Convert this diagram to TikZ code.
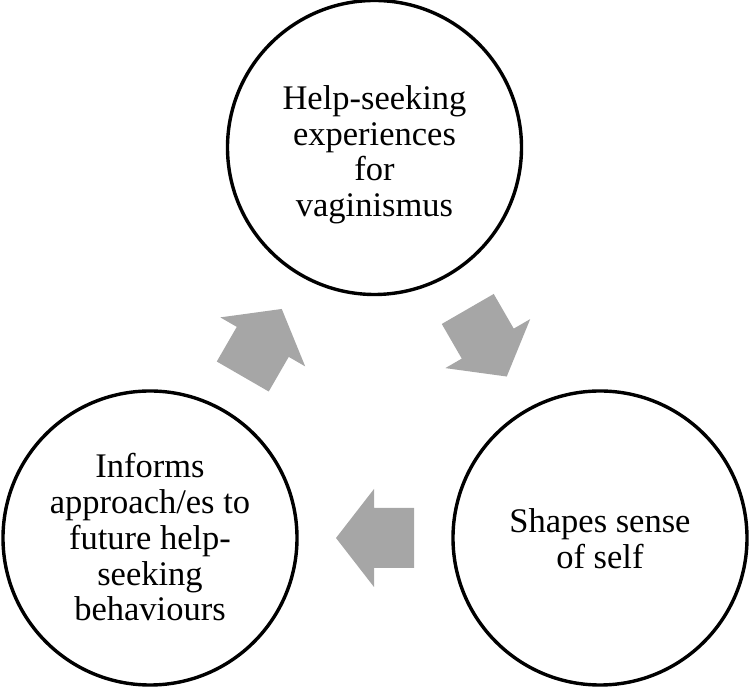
\documentclass[tikz,border=0pt]{standalone}
\usepackage{fontspec}
\setmainfont{Liberation Serif}
\usetikzlibrary{calc}
\definecolor{arrowgray}{RGB}{166,166,166}
\begin{document}
\begin{tikzpicture}[x=1pt,y=1pt,
  bubble/.style={circle, draw=black, line width=3.4pt, minimum size=294pt, inner sep=0pt},
  bubbletext/.style={align=center, font=\fontsize{34.5}{35.8}\selectfont, inner sep=0pt},
  blockarrow/.pic={\fill[arrowgray] (-39,-30) -- (1,-30) -- (1,-49) -- (39,0) -- (1,49) -- (1,30) -- (-39,30) -- cycle;}
]
\useasboundingbox (0,0) rectangle (750,690);
\node[bubble] (top) at (374.5,542.5) {};
\node[bubble] (left) at (150,152) {};
\node[bubble] (right) at (600,152) {};
\node[bubbletext] (toptext) at ([yshift=-7.3pt]top.center) {Help-seeking\\experiences\\for\\vaginismus};
\node[bubbletext] (lefttext) at ([yshift=0.6pt]left.center) {Informs\\approach/es to\\future help-\\seeking\\behaviours};
\node[bubbletext] (righttext) at ([yshift=-0.9pt]right.center) {Shapes sense\\of self};
\pic[rotate=60] at ($(left)!0.5!(top)$) {blockarrow};
\pic[rotate=-60] at ($(top)!0.5!(right)$) {blockarrow};
\pic[rotate=180] at ($(right)!0.5!(left)$) {blockarrow};
\end{tikzpicture}
\end{document}
